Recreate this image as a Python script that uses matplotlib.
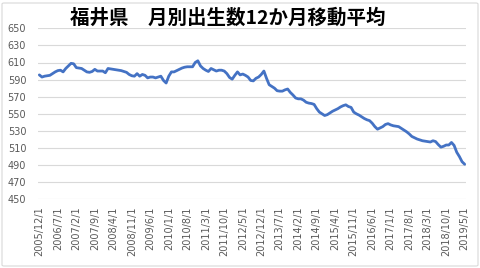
import matplotlib
matplotlib.use("Agg")
import matplotlib.pyplot as plt
from matplotlib.patches import FancyBboxPatch

plt.rcParams['font.family'] = ['Noto Sans CJK JP', 'DejaVu Sans']

title = "福井県　月別出生数12か月移動平均"

# 12-month moving average of monthly births, 2005/12 .. 2019/5 (162 months)
values = [
    595.5, 593, 594, 594.5, 595, 597, 599, 600.5, 601, 599,
    603, 606, 609, 608.5, 604, 603.5, 603, 601, 599, 598.5,
    599.5, 602, 600, 600, 600, 598, 603, 602.5, 602, 601.5,
    601, 600.5, 599.5, 598.5, 596, 594.5, 594, 597, 594, 596,
    595, 592, 593, 593, 592, 593, 594, 589, 586, 594,
    599, 599, 600.5, 602, 603.5, 604.5, 605, 605, 605, 610,
    612, 606, 603, 601, 599.5, 603, 601.5, 600, 601, 601,
    600, 597, 592.5, 590.5, 595, 599, 595.5, 596.5, 595, 593,
    589, 588.5, 591.5, 593, 596, 600, 591.5, 584, 582, 580,
    577, 576.5, 576.5, 578, 579, 575, 572, 568.5, 567.5, 567.5,
    566, 563.5, 562.5, 562, 561, 556, 552, 550, 548, 549,
    551, 553, 554.5, 556, 558, 559.5, 560.5, 558.5, 557.5, 552,
    550, 548.5, 546.5, 544.5, 543, 542, 539, 535, 532, 533.5,
    535, 537.5, 538.5, 537, 536, 535.5, 535, 533, 531, 529,
    526.5, 523.5, 522, 520.5, 519.5, 518.5, 518, 517.5, 517, 518.5,
    517.5, 514, 511, 512, 513.5, 513.5, 516.5, 513, 505, 500,
    494, 491,
]

tick_labels = [
    "2005/12/1", "2006/7/1", "2007/2/1", "2007/9/1", "2008/4/1", "2008/11/1",
    "2009/6/1", "2010/1/1", "2010/8/1", "2011/3/1", "2011/10/1", "2012/5/1",
    "2012/12/1", "2013/7/1", "2014/2/1", "2014/9/1", "2015/4/1", "2015/11/1",
    "2016/6/1", "2017/1/1", "2017/8/1", "2018/3/1", "2018/10/1", "2019/5/1",
]
tick_step = 7
y_ticks = [450, 470, 490, 510, 530, 550, 570, 590, 610, 630, 650]

W, H = 481, 268
fig = plt.figure(figsize=(W / 100, H / 100), dpi=100)
fig.patch.set_facecolor("white")

# chart border
border = FancyBboxPatch((2 / W, 2 / H), 1 - 5 / W, 1 - 5 / H,
                        boxstyle="round,pad=0,rounding_size=0.004",
                        transform=fig.transFigure, fill=False,
                        edgecolor="#D9D9D9", linewidth=0.8)
fig.patches.append(border)

left, right = 38 / W, 466 / W
bottom, top = 1 - 199.3 / H, 1 - 28.3 / H
ax = fig.add_axes([left, bottom, right - left, top - bottom])
ax.set_facecolor("white")

x = list(range(len(values)))
ax.plot(x, values, color="#4472C4", linewidth=2.0, solid_joinstyle="round",
        solid_capstyle="round", zorder=3)

ax.set_xlim(-0.5, len(values) - 0.5)
ax.set_ylim(450, 650)
ax.set_yticks(y_ticks)
ax.set_yticklabels([str(v) for v in y_ticks])
ax.set_xticks(list(range(0, len(values), tick_step)))
ax.set_xticklabels(tick_labels, rotation=90)

ax.grid(axis="y", color="#D9D9D9", linewidth=0.8)
ax.set_axisbelow(True)
for s in ax.spines.values():
    s.set_visible(False)
ax.tick_params(axis="both", length=0, labelsize=7, colors="#595959")
ax.tick_params(axis="y", pad=8.5)
ax.tick_params(axis="x", pad=5)
for lbl in ax.get_xticklabels() + ax.get_yticklabels():
    lbl.set_family("DejaVu Sans")

fig.text(228 / W, 1 - 18 / H, title, ha="center", va="center",
         fontsize=14, fontweight="bold", color="black")

fig.savefig("out.png", dpi=100, facecolor="white")
